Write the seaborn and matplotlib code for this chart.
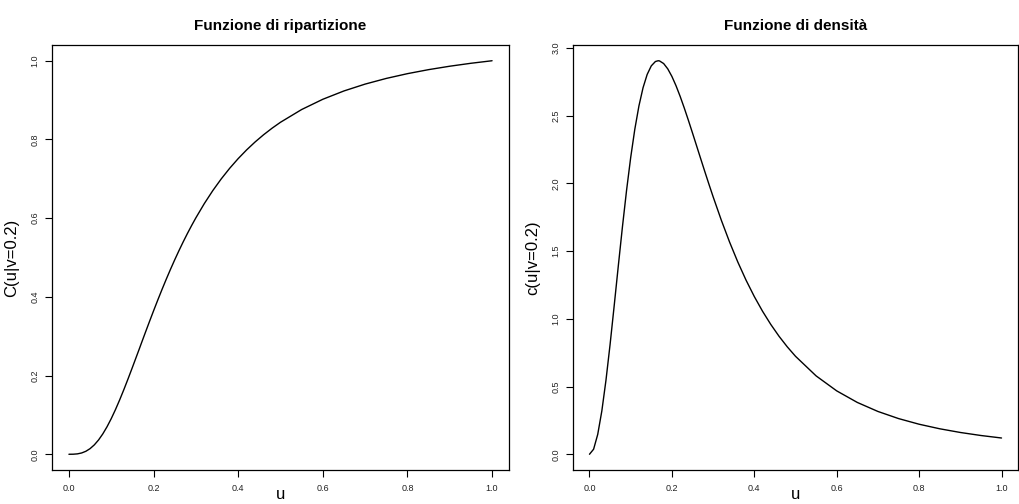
import matplotlib
matplotlib.use("Agg")
import matplotlib.pyplot as plt
import seaborn as sns
import pandas as pd

# Conditional distribution and density of U given v = 0.2
u_vals = [0.00, 0.01, 0.02, 0.03, 0.04, 0.05, 0.06, 0.07, 0.08, 0.09,
          0.10, 0.11, 0.12, 0.13, 0.14, 0.15, 0.16, 0.1667, 0.17, 0.18, 0.19,
          0.20, 0.21, 0.22, 0.23, 0.24, 0.25, 0.26, 0.27, 0.28, 0.29,
          0.30, 0.32, 0.34, 0.36, 0.38, 0.40, 0.42, 0.44, 0.46, 0.48,
          0.50, 0.55, 0.60, 0.65, 0.70, 0.75, 0.80, 0.85, 0.90, 0.95, 1.00]

cdf_vals = [0.0, 0.000125, 0.000986, 0.003269, 0.007560, 0.014317, 0.023844,
            0.036289, 0.051653, 0.069809, 0.090527, 0.113501, 0.138382,
            0.164797, 0.192372, 0.220751, 0.249605, 0.268882, 0.278638, 0.307593,
            0.336251, 0.364431, 0.391989, 0.418808, 0.444805, 0.469917,
            0.494106, 0.517346, 0.539631, 0.560962, 0.581351, 0.600819,
            0.637087, 0.670013, 0.699828, 0.726843, 0.751315, 0.773493,
            0.793614, 0.811894, 0.828520, 0.843672, 0.876048, 0.902086,
            0.923256, 0.940650, 0.955085, 0.967175, 0.977390, 0.986089,
            0.993553, 1.0]

pdf_vals = [0.0, 0.03728, 0.14646, 0.31994, 0.54606, 0.81042, 1.09739,
            1.39161, 1.67909, 1.94824, 2.19016, 2.39886, 2.57101, 2.70560,
            2.80349, 2.86690, 2.89897, 2.90470, 2.90337, 2.88397, 2.84463,
            2.78902, 2.72048, 2.64204, 2.55631, 2.46557, 2.37171, 2.27631,
            2.18064, 2.08576, 1.99244, 1.90132, 1.72740, 1.56628, 1.41882,
            1.28497, 1.16423, 1.05567, 0.95831, 0.87111, 0.79305, 0.72314,
            0.57850, 0.46789, 0.38251, 0.31594, 0.26347, 0.22169, 0.18809,
            0.16081, 0.13846, 0.12]

titles = ["Funzione di ripartizione", "Funzione di densità"]
ylabels = ["C(u|v=0.2)", "c(u|v=0.2)"]
xlabel = "u"
xticks = [0.0, 0.2, 0.4, 0.6, 0.8, 1.0]
yticks_cdf = [0.0, 0.2, 0.4, 0.6, 0.8, 1.0]
yticks_pdf = [0.0, 0.5, 1.0, 1.5, 2.0, 2.5, 3.0]

sns.set_theme(style="ticks")
plt.rcParams["font.family"] = ["Liberation Sans", "DejaVu Sans"]
plt.rcParams["text.color"] = "black"
plt.rcParams["axes.labelcolor"] = "black"

df = pd.DataFrame({"u": u_vals, "cdf": cdf_vals, "pdf": pdf_vals})

W, H = 1020, 504
fig = plt.figure(figsize=(W / 100, H / 100), dpi=100)
ax1 = fig.add_axes([52 / W, (H - 470) / H, (509 - 52) / W, (470 - 45) / H])
ax2 = fig.add_axes([573 / W, (H - 470) / H, (1018 - 573) / W, (470 - 45) / H])


def r_range(lo, hi):
    pad = (hi - lo) * 0.04
    return lo - pad, hi + pad


for ax, col, title, ylab, yt in [
    (ax1, "cdf", titles[0], ylabels[0], yticks_cdf),
    (ax2, "pdf", titles[1], ylabels[1], yticks_pdf),
]:
    sns.lineplot(data=df, x="u", y=col, ax=ax, color="black", linewidth=1.0)
    ax.set_xlim(*r_range(0.0, 1.0))
    ax.set_ylim(*r_range(min(df[col]), max(df[col])))
    ax.set_xticks(xticks)
    ax.set_xticklabels([f"{t:.1f}" for t in xticks])
    ax.set_yticks(yt)
    ax.set_yticklabels([f"{t:.1f}" for t in yt], rotation=90, va="center")
    ax.tick_params(axis="both", direction="out", length=5, width=0.8,
                   color="black", labelsize=6.5, labelcolor="#222222", pad=5)
    ax.tick_params(axis="y", pad=4)
    for s in ax.spines.values():
        s.set_color("black")
        s.set_linewidth(0.9)
    ax.set_title(title, fontsize=11, fontweight="bold", pad=11, color="black")
    ax.set_xlabel(xlabel, fontsize=12, labelpad=-4)
    ax.set_ylabel(ylab, fontsize=12, labelpad=8)

fig.savefig("out.png", dpi=100, facecolor="white")
